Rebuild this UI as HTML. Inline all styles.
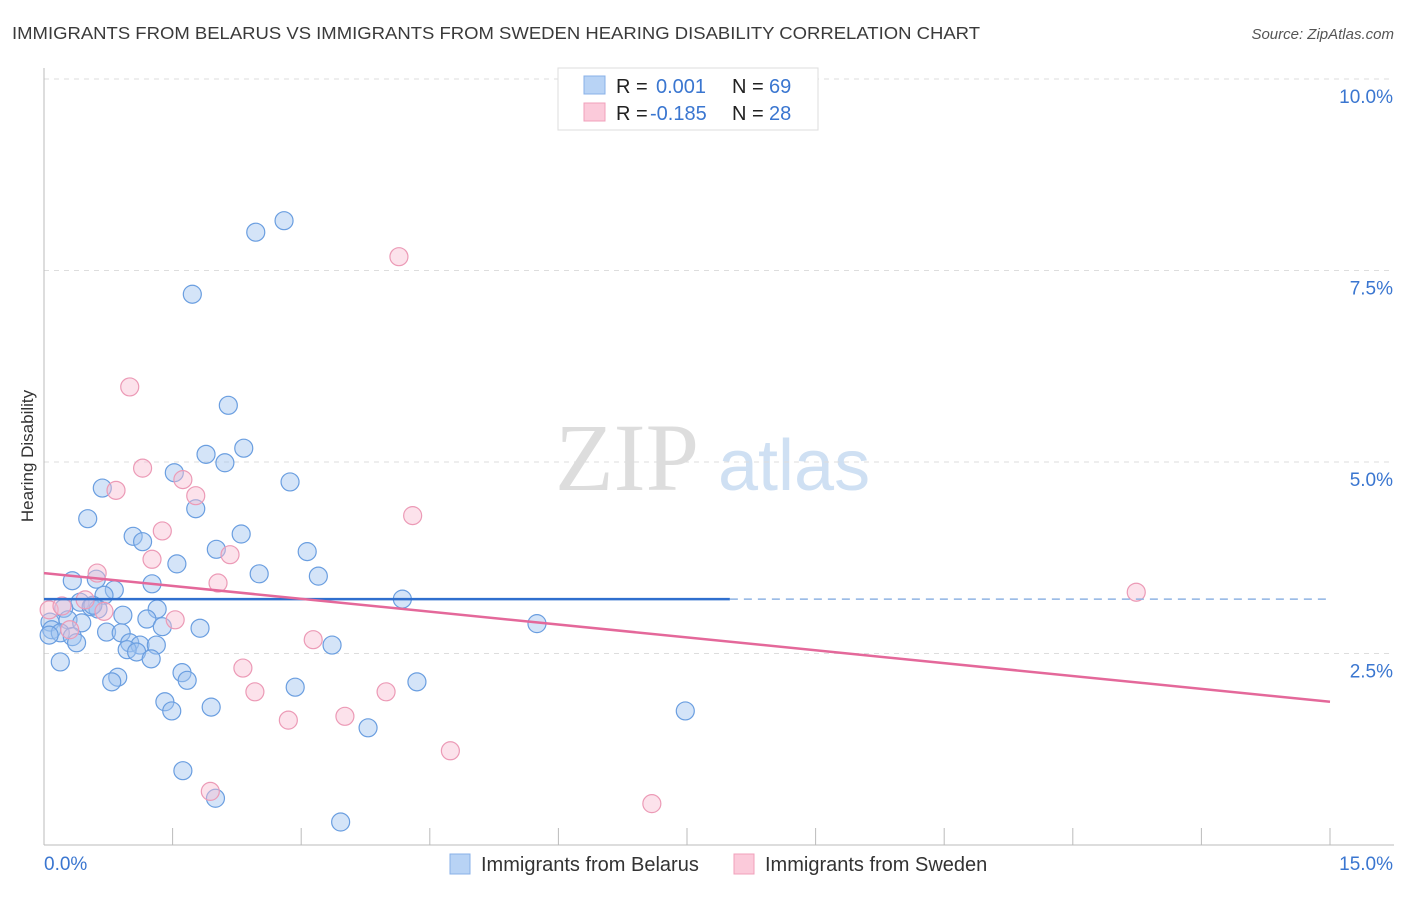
<!DOCTYPE html>
<html><head><meta charset="utf-8"><style>
body{margin:0;background:#fff;font-family:"Liberation Sans",sans-serif;}
svg text{font-family:"Liberation Sans",sans-serif;}
</style></head><body>
<svg id="chart" width="1406" height="892" xmlns="http://www.w3.org/2000/svg">
<text x="12" y="39" font-size="17.5" fill="#3a3a3a" textLength="968" lengthAdjust="spacingAndGlyphs">IMMIGRANTS FROM BELARUS VS IMMIGRANTS FROM SWEDEN HEARING DISABILITY CORRELATION CHART</text>
<text x="1394" y="39" font-size="15" fill="#555" text-anchor="end" font-style="italic">Source: ZipAtlas.com</text>
<g>
<text x="555" y="490" font-size="96" fill="#ddd" font-family="Liberation Serif" style="font-family:'Liberation Serif',serif">ZIP</text>
<text x="718" y="490" font-size="72" fill="#cfe0f3">atlas</text>
</g>
<g id="grid"></g>
<g id="axes"></g>
<g id="marks"></g>
<text transform="translate(33,456) rotate(-90)" font-size="17" fill="#333" text-anchor="middle">Hearing Disability</text>
<g>
<rect x="558" y="68" width="260" height="62" fill="#fff" stroke="#ddd"/>
<rect x="584" y="76" width="21" height="18" fill="#b8d3f5" stroke="#88b0e8"/>
<rect x="584" y="103" width="21" height="18" fill="#fbcada" stroke="#f0a0bb"/>
<text x="616" y="93" font-size="20" fill="#222">R =</text><text x="656" y="93" font-size="20" fill="#3a76d0">0.001</text>
<text x="732" y="93" font-size="20" fill="#222">N =</text><text x="769" y="93" font-size="20" fill="#3a76d0">69</text>
<text x="616" y="120" font-size="20" fill="#222">R =</text><text x="650" y="120" font-size="20" fill="#3a76d0">-0.185</text>
<text x="732" y="120" font-size="20" fill="#222">N =</text><text x="769" y="120" font-size="20" fill="#3a76d0">28</text>
</g>
<g>
<rect x="450" y="854" width="20" height="20" fill="#b8d3f5" stroke="#88b0e8"/>
<text x="481" y="871" font-size="20" fill="#333">Immigrants from Belarus</text>
<rect x="734" y="854" width="20" height="20" fill="#fbcada" stroke="#f0a0bb"/>
<text x="765" y="871" font-size="20" fill="#333">Immigrants from Sweden</text>
</g>
</svg>
<script>
const blueX=[2.80,2.47,1.73,2.15,2.33,1.89,2.11,1.52,2.87,0.68,1.77,0.51,2.30,1.04,1.15,2.01,3.07,1.55,2.51,3.20,0.33,0.61,1.26,0.82,0.70,4.18,0.42,0.55,0.63,1.32,0.23,0.92,1.20,0.07,0.28,0.44,1.38,1.82,5.75,0.09,0.19,0.73,0.90,0.06,0.33,0.38,1.00,1.12,1.31,3.36,0.97,1.08,1.25,0.19,1.61,1.67,0.86,0.79,4.35,2.93,1.41,1.49,1.95,7.48,3.78,1.62,2.00,3.46,0.57];
const blueY=[8.15,8.00,7.19,5.74,5.18,5.10,4.99,4.86,4.74,4.66,4.39,4.26,4.06,4.03,3.96,3.86,3.83,3.67,3.54,3.51,3.45,3.47,3.41,3.33,3.26,3.21,3.17,3.11,3.08,3.08,3.09,3.00,2.95,2.91,2.94,2.90,2.85,2.83,2.89,2.81,2.77,2.78,2.77,2.74,2.72,2.64,2.64,2.61,2.61,2.61,2.55,2.52,2.43,2.39,2.25,2.15,2.19,2.13,2.13,2.06,1.87,1.75,1.80,1.75,1.53,0.97,0.61,0.30,3.13];
const pinkX=[4.14,1.00,1.15,0.84,1.62,1.77,4.30,1.38,1.26,2.17,0.62,2.03,12.74,0.70,0.06,1.53,0.21,0.30,3.14,2.32,2.46,3.99,2.85,3.51,4.74,1.94,7.09,0.48];
const pinkY=[7.68,5.98,4.92,4.63,4.77,4.56,4.30,4.10,3.73,3.79,3.55,3.42,3.30,3.05,3.07,2.94,3.12,2.81,2.68,2.31,2.00,2.00,1.63,1.68,1.23,0.70,0.54,3.20];
const yTicks=[2.5,5.0,7.5,10.0];
const yTickLabels=["2.5%","5.0%","7.5%","10.0%"];
const xTicks=[0,1.5,3,4.5,6,7.5,9,10.5,12,13.5,15];
const blueTrend=[[0,3.21],[8.0,3.21],[15,3.21]];
const pinkTrend=[[0,3.55],[15,1.87]];
const X=v=>44+v*(1330-44)/15;
const Y=v=>845-v*76.6;
const NS="http://www.w3.org/2000/svg";
function mk(parent,tag,attrs){const e=document.createElementNS(NS,tag);for(const k in attrs)e.setAttribute(k,attrs[k]);document.getElementById(parent).appendChild(e);return e;}
yTicks.forEach((t,i)=>{
 const l=mk('grid','line',{x1:44,x2:1394,y1:Y(t),y2:Y(t),stroke:'#ddd','stroke-dasharray':'5,5'});
 
 
 const tx=mk('axes','text',{x:1393,y:Y(t)+24,'font-size':19,fill:'#3a76d0','text-anchor':'end'});
 tx.textContent=yTickLabels[i];
 
 
});
const al=mk('axes','line',{x1:44,x2:44,y1:68,y2:845,stroke:'#bbb'});


const bl=mk('axes','line',{x1:44,x2:1394,y1:845,y2:845,stroke:'#bbb'});


xTicks.forEach(t=>{
 const l=mk('axes','line',{x1:X(t),x2:X(t),y1:828,y2:845,stroke:'#bbb'});
 
 
});
const x0=mk('axes','text',{x:44,y:870,'font-size':19,fill:'#3a76d0'});x0.textContent='0.0%';


const x1=mk('axes','text',{x:1393,y:870,'font-size':19,fill:'#3a76d0','text-anchor':'end'});x1.textContent='15.0%';


blueX.forEach((x,i)=>{
 const c=mk('marks','circle',{cx:X(x),cy:Y(blueY[i]),r:9,fill:'rgba(160,196,240,0.45)',stroke:'#6a9ee0','stroke-width':1.2});
 
 
});
pinkX.forEach((x,i)=>{
 const c=mk('marks','circle',{cx:X(x),cy:Y(pinkY[i]),r:9,fill:'rgba(248,190,210,0.45)',stroke:'#ec9ab6','stroke-width':1.2});
 
 
});
const b1=mk('marks','line',{x1:X(blueTrend[0][0]),y1:Y(blueTrend[0][1]),x2:X(blueTrend[1][0]),y2:Y(blueTrend[1][1]),stroke:'#2f6fce','stroke-width':2.5});


const b2=mk('marks','line',{x1:X(blueTrend[1][0]),y1:Y(blueTrend[1][1]),x2:X(blueTrend[2][0]),y2:Y(blueTrend[2][1]),stroke:'#8fb3e3','stroke-width':1.5,'stroke-dasharray':'8,6'});


const p1=mk('marks','line',{x1:X(pinkTrend[0][0]),y1:Y(pinkTrend[0][1]),x2:X(pinkTrend[1][0]),y2:Y(pinkTrend[1][1]),stroke:'#e4689a','stroke-width':2.5});


</script>
</body></html>
